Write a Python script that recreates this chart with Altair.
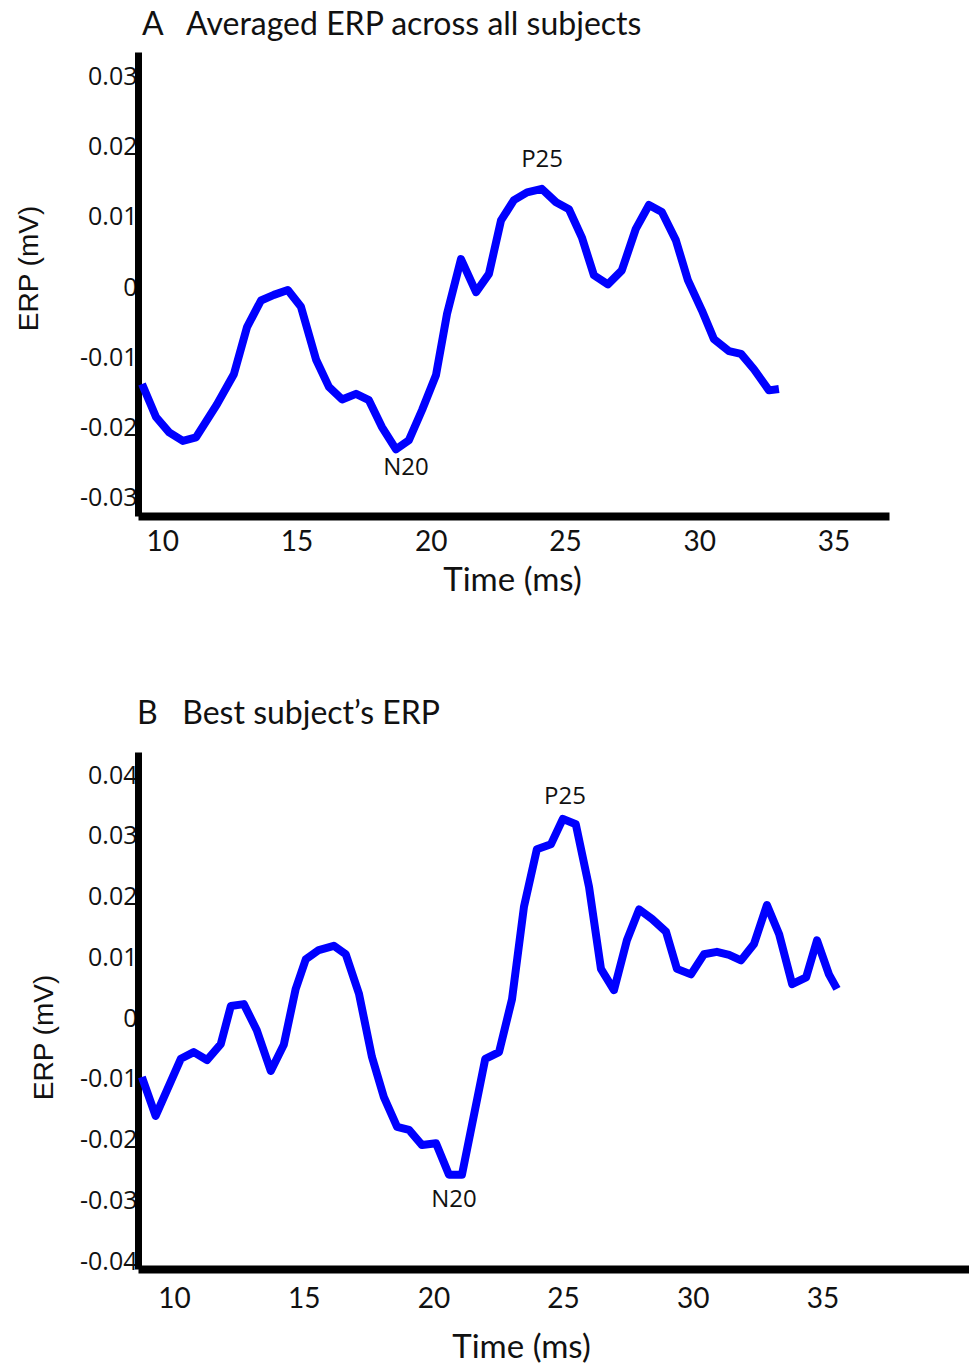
import altair as alt
import pandas as pd

# ---------------- data ----------------
a_time = [9.25, 9.77, 10.26, 10.77, 11.26, 12.04, 12.67, 13.16, 13.68, 14.16,
          14.68, 15.17, 15.73, 16.21, 16.70, 17.22, 17.70, 18.18, 18.71, 19.19,
          19.68, 20.20, 20.61, 21.13, 21.69, 22.17, 22.62, 23.10, 23.59, 24.14,
          24.67, 25.15, 25.63, 26.08, 26.60, 27.12, 27.64, 28.13, 28.61, 29.13,
          29.58, 30.10, 30.55, 31.11, 31.56, 32.04, 32.60, 32.97]
a_erp = [-0.0138, -0.0185, -0.0207, -0.0219, -0.0214, -0.0167, -0.0124, -0.0057, -0.0019, -0.0011,
         -0.0004, -0.0028, -0.0103, -0.0142, -0.0160, -0.0152, -0.0161, -0.0199, -0.0231, -0.0218,
         -0.0175, -0.0125, -0.0038, 0.0040, -0.0007, 0.0019, 0.0095, 0.0124, 0.0135, 0.0140,
         0.0121, 0.0111, 0.0071, 0.0017, 0.0004, 0.0024, 0.0083, 0.0117, 0.0107, 0.0067,
         0.0010, -0.0033, -0.0074, -0.0091, -0.0095, -0.0117, -0.0147, -0.0145]

b_time = [8.76, 9.29, 10.26, 10.76, 11.27, 11.80, 12.19, 12.69, 13.19, 13.73,
          14.23, 14.69, 15.08, 15.58, 16.16, 16.62, 17.13, 17.63, 18.09, 18.60,
          19.06, 19.56, 20.10, 20.60, 21.10, 22.00, 22.53, 23.03, 23.49, 23.99,
          24.53, 24.99, 25.49, 26.00, 26.46, 26.96, 27.46, 27.93, 28.43, 28.97,
          29.39, 29.93, 30.43, 30.93, 31.40, 31.86, 32.36, 32.86, 33.33, 33.83,
          34.37, 34.79, 35.25, 35.56]
b_erp = [-0.0097, -0.0161, -0.0067, -0.0056, -0.0069, -0.0043, 0.0020, 0.0023, -0.0020, -0.0087,
         -0.0044, 0.0048, 0.0097, 0.0112, 0.0119, 0.0105, 0.0040, -0.0064, -0.0130, -0.0179,
         -0.0184, -0.0209, -0.0206, -0.0258, -0.0258, -0.0067, -0.0056, 0.0031, 0.0183, 0.0278,
         0.0286, 0.0328, 0.0319, 0.0216, 0.0081, 0.0046, 0.0128, 0.0179, 0.0163, 0.0142,
         0.0081, 0.0072, 0.0105, 0.0109, 0.0104, 0.0095, 0.0122, 0.0186, 0.0138, 0.0056,
         0.0067, 0.0128, 0.0072, 0.0048]

x_ticks = [10, 15, 20, 25, 30, 35]
a_y_ticks = [-0.03, -0.02, -0.01, 0, 0.01, 0.02, 0.03]
b_y_ticks = [-0.04, -0.03, -0.02, -0.01, 0, 0.01, 0.02, 0.03, 0.04]

a_peak_names = ["P25", "N20"]
a_peak_time = [24.15, 19.08]
a_peak_erp = [0.0181, -0.0258]
b_peak_names = ["P25", "N20"]
b_peak_time = [25.07, 20.79]
b_peak_erp = [0.0364, -0.0300]

a_title = "A\u00a0\u00a0\u00a0Averaged ERP across all subjects"
b_title = "B\u00a0\u00a0\u00a0Best subject\u2019s ERP"

BLUE = "#0000ff"
LABEL_EXPR = ("datum.value == 0 ? '0' : (datum.value < 0 ? '-' : '') + "
              "format(abs(datum.value), '.2f')")


def panel(time, erp, names, ptime, perp, y_ticks, xdom, ydom, width, height,
          title, title_dx, title_offset, ytitle_x, ytitle_y,
          xlabel_pad, xtitle_x, xtitle_y):
    line_df = pd.DataFrame({"time": time, "erp": erp})
    ann_df = pd.DataFrame({"name": names, "time": ptime, "erp": perp})

    x_enc = alt.X(
        "time:Q",
        scale=alt.Scale(domain=xdom, nice=False, zero=False),
        axis=alt.Axis(
            values=x_ticks, title="Time (ms)", grid=False, ticks=False, tickSize=0,
            domainColor="black", domainWidth=8, labelFlush=False, labelOverlap=False,
            labelFont="Liberation Sans Narrow, Lato, sans-serif", labelFontSize=28,
            labelColor="#111111", labelPadding=xlabel_pad,
            titleFont="Lato, sans-serif", titleFontSize=33, titleFontWeight="normal",
            titleColor="#111111", titleX=xtitle_x, titleY=xtitle_y,
            titleAlign="center", titleBaseline="middle", titleAnchor="start",
        ),
    )
    y_enc = alt.Y(
        "erp:Q",
        scale=alt.Scale(domain=ydom, nice=False, zero=False),
        axis=alt.Axis(
            values=y_ticks, title="ERP (mV)", grid=False, ticks=False, tickSize=0,
            domainColor="black", domainWidth=7, labelFlush=False, labelOverlap=False,
            labelExpr=LABEL_EXPR,
            labelFont="Open Sans, sans-serif", labelFontSize=25,
            labelColor="#111111", labelPadding=1,
            titleFont="Liberation Sans, Arial, sans-serif", titleFontSize=28,
            titleFontWeight="normal", titleColor="#111111",
            titleAngle=270, titleX=ytitle_x, titleY=ytitle_y,
            titleAlign="center", titleBaseline="middle", titleAnchor="start",
        ),
    )

    line = alt.Chart(line_df).mark_line(
        color=BLUE, strokeWidth=8, strokeJoin="round", strokeCap="butt"
    ).encode(x=x_enc, y=y_enc)

    ann = alt.Chart(ann_df).mark_text(
        font="Open Sans, sans-serif", fontSize=24, color="#111111",
        align="center", baseline="middle"
    ).encode(x="time:Q", y="erp:Q", text="name:N")

    return alt.layer(line, ann).properties(
        width=width, height=height,
        title=alt.TitleParams(
            text=title, anchor="start", frame="group", dx=title_dx,
            offset=title_offset, baseline="alphabetic",
            font="Lato, sans-serif", fontSize=32, fontWeight="normal",
            color="#111111",
        ),
    )


chart_a = panel(a_time, a_erp, a_peak_names, a_peak_time, a_peak_erp, a_y_ticks,
                [9.10, 37.07], [-0.0326, 0.0335], 751, 464,
                a_title, 4, -15, -109, 216, 12, 374, 64)
chart_b = panel(b_time, b_erp, b_peak_names, b_peak_time, b_peak_erp, b_y_ticks,
                [8.61, 40.65], [-0.0413, 0.0438], 831, 517,
                b_title, -1, -4, -94, 285, 16, 383, 78)

chart = alt.vconcat(chart_a, chart_b, spacing=236, bounds="flush").properties(
    padding={"left": 15, "top": 9, "right": 0, "bottom": 0},
    background="white",
).configure_view(stroke=None)

chart.save("out.html", embed_options={"renderer": "svg", "actions": False})
